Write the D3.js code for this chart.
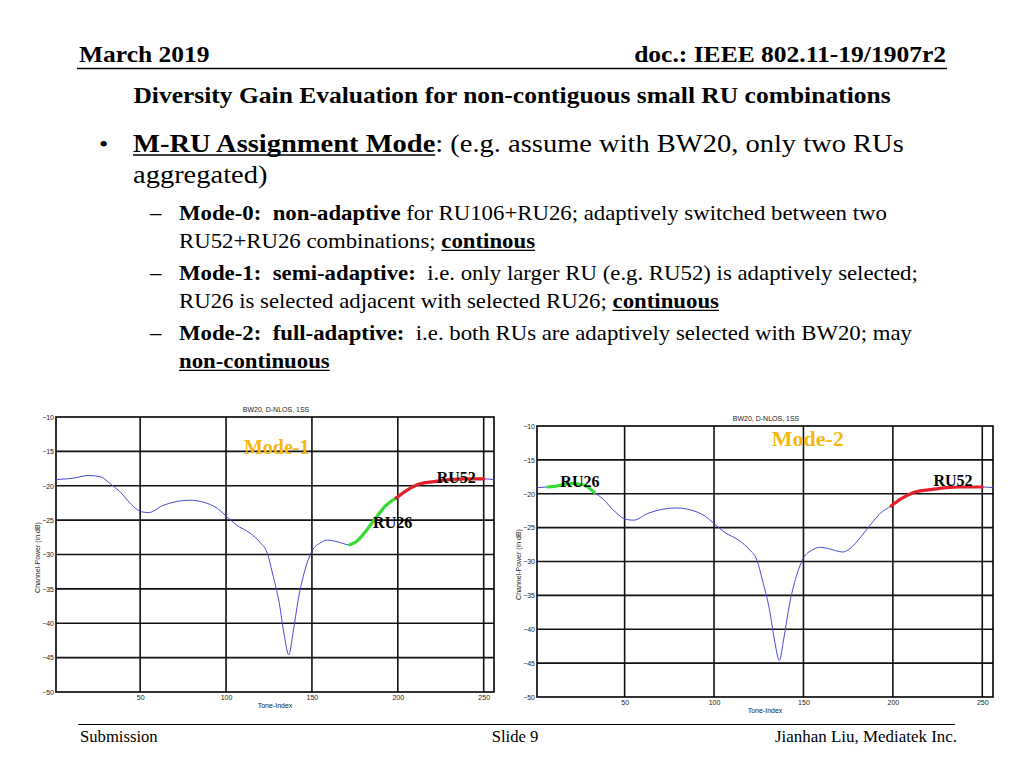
<!DOCTYPE html>
<html>
<head>
<meta charset="utf-8">
<script src="https://cdn.jsdelivr.net/npm/d3@7"></script>
<style>
  body { margin: 0; background: #fff; }
  svg { display: block; }
</style>
</head>
<body>
<div id="slide"></div>
<script>
// channel response (same channel in both panels)
const toneIdx = [1, 7, 11, 20, 27, 33, 38, 44, 51, 55, 63, 71, 79, 87, 95, 100, 106, 114, 120, 124, 127, 131, 134, 136.5, 139, 142, 146, 150, 155, 159, 164, 172, 176, 182, 188, 193, 199, 205, 213, 221, 230, 238, 250, 256];
const powerDb = [-19.1, -19.0, -18.9, -18.5, -18.7, -19.8, -20.8, -22.5, -23.8, -23.9, -22.9, -22.3, -22.1, -22.4, -23.3, -24.4, -25.7, -26.9, -28.3, -29.8, -32.7, -37.1, -41.9, -44.6, -41.4, -36.6, -32.2, -29.5, -28.3, -27.9, -28.1, -28.6, -28.1, -26.4, -24.4, -22.9, -21.8, -20.7, -19.7, -19.4, -19.1, -19.0, -19.0, -19.1];

const xTicks = [50, 100, 150, 200, 250];
const yTicks = [-10, -15, -20, -25, -30, -35, -40, -45, -50];

// selected RU ranges (tone index) per mode
const mode1Ru26 = [172, 199];
const mode1Ru52 = [199, 250];
const mode2Ru26 = [7, 33];
const mode2Ru52 = [199, 250];

const W = 1024, H = 768;
const serif = "'Liberation Serif', 'Times New Roman', serif";
const sans = "'Liberation Sans', Arial, sans-serif";

const svg = d3.select("#slide").append("svg")
  .attr("width", W).attr("height", H);

// slide text is a little wider than plain Times, so stretch it horizontally
function stext(x, y, size, sx, opts) {
  const g = svg.append("g").attr("transform", `translate(${x},${y}) scale(${sx},1)`);
  const t = g.append("text").attr("x", 0).attr("y", 0)
    .attr("font-family", serif).attr("font-size", size)
    .attr("text-anchor", opts.anchor || "start")
    .attr("xml:space", "preserve");
  if (opts.bold) t.attr("font-weight", "bold");
  (opts.parts || [{t: opts.text, b: opts.bold}]).forEach(p => {
    const s = t.append("tspan").text(p.t);
    if (p.b) s.attr("font-weight", "bold");
    if (p.u) s.attr("data-u", 1);
  });
  t.selectAll("tspan[data-u]").each(function() {
    const start = this.getStartPositionOfChar(0).x;
    const len = this.getComputedTextLength();
    g.append("line").attr("x1", start).attr("x2", start + len)
      .attr("y1", size * 0.12).attr("y2", size * 0.12)
      .attr("stroke", "#000").attr("stroke-width", size / 16);
  });
  return g;
}

// ---------- slide header / footer ----------
stext(79, 62, 23, 1.11, {text: "March 2019", bold: 1});
stext(946, 62, 23, 1.11, {text: "doc.: IEEE 802.11-19/1907r2", bold: 1, anchor: "end"});
svg.append("line").attr("x1", 77).attr("x2", 947).attr("y1", 68.5).attr("y2", 68.5)
  .attr("stroke", "#000").attr("stroke-width", 1.5);

stext(512, 103, 23, 1.11, {text: "Diversity Gain Evaluation for non-contiguous small RU combinations", bold: 1, anchor: "middle"});

svg.append("line").attr("x1", 78).attr("x2", 955).attr("y1", 724.5).attr("y2", 724.5)
  .attr("stroke", "#000").attr("stroke-width", 1.2);
stext(80, 742, 16, 1.04, {text: "Submission"});
stext(515, 742, 16, 1.04, {text: "Slide 9", anchor: "middle"});
stext(957, 742, 16, 1.06, {text: "Jianhan Liu, Mediatek Inc.", anchor: "end"});

// ---------- bullet text ----------
stext(99, 152, 24, 1.1, {text: "•"});
stext(133, 152, 25, 1.14, {parts: [{t: "M-RU Assignment Mode", b: 1, u: 1}, {t: ": (e.g. assume with BW20, only two RUs"}]});
stext(133, 183, 25, 1.14, {text: "aggregated)"});

const dashX = 150, subX = 179, subSize = 20, subSx = 1.14;
const subLines = [
  [220, true, [{t: "Mode-0:  non-adaptive", b: 1}, {t: " for RU106+RU26; adaptively switched between two"}]],
  [248, false, [{t: "RU52+RU26 combinations; "}, {t: "continous", b: 1, u: 1}]],
  [280, true, [{t: "Mode-1:  semi-adaptive:", b: 1}, {t: "  i.e. only larger RU (e.g. RU52) is adaptively selected;"}]],
  [308, false, [{t: "RU26 is selected adjacent with selected RU26; "}, {t: "continuous", b: 1, u: 1}]],
  [340, true, [{t: "Mode-2:  full-adaptive:", b: 1}, {t: "  i.e. both RUs are adaptively selected with BW20; may"}]],
  [368, false, [{t: "non-continuous", b: 1, u: 1}]]
];
subLines.forEach(l => {
  if (l[1]) stext(dashX, l[0], subSize, subSx, {text: "–"});
  stext(subX, l[0], subSize, subSx, {parts: l[2]});
});

// ---------- charts ----------
const series = toneIdx.map((t, i) => ({t: t, p: powerDb[i]}));

function drawChart(cfg) {
  const x = d3.scaleLinear().domain([1, 256]).range([cfg.left, cfg.right]);
  const y = d3.scaleLinear().domain([-50, -10]).range([cfg.bottom, cfg.top]);
  const g = svg.append("g");

  g.append("g").selectAll("line.vx").data(xTicks).enter().append("line")
    .attr("x1", d => x(d)).attr("x2", d => x(d))
    .attr("y1", cfg.top).attr("y2", cfg.bottom)
    .attr("stroke", "#111").attr("stroke-width", 1.6);
  g.append("g").selectAll("line.hy").data(yTicks.slice(1, -1)).enter().append("line")
    .attr("x1", cfg.left).attr("x2", cfg.right)
    .attr("y1", d => y(d)).attr("y2", d => y(d))
    .attr("stroke", "#111").attr("stroke-width", 1.6);
  g.append("rect").attr("x", cfg.left).attr("y", cfg.top)
    .attr("width", cfg.right - cfg.left).attr("height", cfg.bottom - cfg.top)
    .attr("fill", "none").attr("stroke", "#000").attr("stroke-width", 1.6);

  const ax = g.append("g").attr("transform", `translate(0,${cfg.bottom})`)
    .call(d3.axisBottom(x).tickValues(xTicks).tickSize(0).tickPadding(3));
  const ay = g.append("g").attr("transform", `translate(${cfg.left},0)`)
    .call(d3.axisLeft(y).tickValues(yTicks).tickSize(0).tickPadding(2));
  [ax, ay].forEach(a => {
    a.select(".domain").remove();
    a.selectAll("text").attr("font-family", sans).attr("font-size", 7).attr("fill", "#222");
  });

  g.append("text").attr("x", (cfg.left + cfg.right) / 2 + 1).attr("y", cfg.top - 5)
    .attr("text-anchor", "middle").attr("font-family", sans).attr("font-size", 7).attr("fill", "#222")
    .text("BW20, D-NLOS, 1SS");
  g.append("text").attr("x", (cfg.left + cfg.right) / 2).attr("y", cfg.bottom + 16)
    .attr("text-anchor", "middle").attr("font-family", sans).attr("font-size", 7).attr("fill", "#222")
    .text("Tone-Index");
  g.append("text")
    .attr("transform", `translate(${cfg.left - 16},${(cfg.top + cfg.bottom) / 2 + 3}) rotate(-90)`)
    .attr("text-anchor", "middle").attr("font-family", sans).attr("font-size", 7).attr("fill", "#222")
    .text("Channel-Power (in dB)");

  const line = d3.line().x(d => x(d.t)).y(d => y(d.p)).curve(d3.curveMonotoneX);
  g.append("path").datum(series).attr("d", line)
    .attr("fill", "none").attr("stroke", "#4a4ad8").attr("stroke-width", 1);

  cfg.segs.forEach(s => {
    const part = series.filter(d => d.t >= s.range[0] && d.t <= s.range[1]);
    g.append("path").datum(part).attr("d", line)
      .attr("fill", "none").attr("stroke", s.color).attr("stroke-width", 3.2)
      .attr("stroke-linecap", "round");
  });

  cfg.labels.forEach(l => {
    g.append("text").attr("x", x(l.t)).attr("y", y(l.p))
      .attr("text-anchor", "middle").attr("dominant-baseline", "central")
      .attr("font-family", serif).attr("font-weight", "bold")
      .attr("font-size", l.size).attr("fill", l.color).text(l.text);
  });
}

drawChart({
  left: 56, right: 494, top: 417, bottom: 692,
  segs: [{range: mode1Ru26, color: "#33dd33"}, {range: mode1Ru52, color: "#e3202b"}],
  labels: [
    {text: "Mode-1", t: 129.5, p: -14.4, size: 20, color: "#f5b811"},
    {text: "RU52", t: 234, p: -18.8, size: 16, color: "#000"},
    {text: "RU26", t: 197, p: -25.4, size: 16, color: "#000"}
  ]
});

drawChart({
  left: 537, right: 993, top: 426, bottom: 697,
  segs: [{range: mode2Ru26, color: "#33dd33"}, {range: mode2Ru52, color: "#e3202b"}],
  labels: [
    {text: "Mode-2", t: 152.5, p: -11.9, size: 22, color: "#f5b811"},
    {text: "RU26", t: 25, p: -18.2, size: 16, color: "#000"},
    {text: "RU52", t: 233.6, p: -18.0, size: 16, color: "#000"}
  ]
});
</script>
</body>
</html>
